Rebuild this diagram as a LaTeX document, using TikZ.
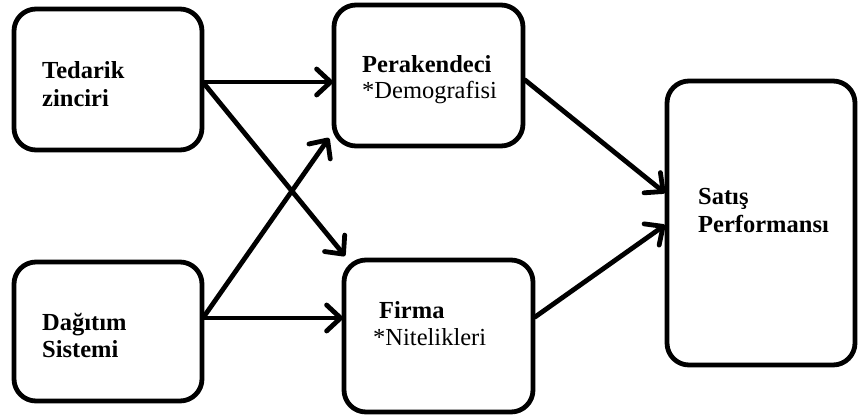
\documentclass[tikz,border=0pt]{standalone}
\usepackage{fontspec}
\setmainfont{Liberation Serif}
\usetikzlibrary{arrows.meta,calc}
\begin{document}
\begin{tikzpicture}[x=1pt,y=-1pt,
  box/.style={draw,line width=4.8pt,rounded corners=22pt,inner sep=0pt,outer sep=0pt},
  arr/.style={line width=4.8pt,line cap=round,
    -{Straight Barb[round,length=14pt,width=26pt]}},
  lbl/.style={anchor=base west,inner sep=0pt,font=\fontsize{24.5}{28}\selectfont\bfseries},
  sub/.style={anchor=base west,inner sep=0pt,font=\fontsize{24.5}{28}\selectfont}]
  \useasboundingbox (0,0) rectangle (858,416);

  % boxes
  \node[box,minimum width=188pt,minimum height=141pt] (A) at (108,79.5) {};
  \node[box,minimum width=189pt,minimum height=141pt] (B) at (428.5,75.5) {};
  \node[box,minimum width=188pt,minimum height=139pt] (C) at (108,331.5) {};
  \node[box,minimum width=189pt,minimum height=152pt] (D) at (438.5,336) {};
  \node[box,minimum width=188pt,minimum height=284pt] (E) at (761,223) {};

  % labels
  \node[lbl] (a1) at (42,78) {Tedarik};
  \node[lbl] (a2) at (42,106) {zinciri};
  \node[lbl] (b1) at (362,72) {Perakendeci};
  \node[sub] (b2) at (362,98) {*Demografisi};
  \node[lbl] (c1) at (42,330) {Dağıtım};
  \node[lbl] (c2) at (42,357) {Sistemi};
  \node[lbl] (d1) at (379,318) {Firma};
  \node[sub] (d2) at (373,345) {*Nitelikleri};
  \node[lbl] (e1) at (698,204) {Satış};
  \node[lbl] (e2) at (698,232) {Performansı};

  % connectors
  \draw[arr] ($(A.east)+(1,2.5)$) -- ($(B.west)+(-1,6.5)$);
  \draw[arr] ($(A.east)+(2,4)$) -- ($(D.north west)+(1,-4)$);
  \draw[arr] ($(C.east)+(2,-15)$) -- ($(B.south west)+(-5,-8)$);
  \draw[arr] ($(C.east)+(1,-13.5)$) -- ($(D.west)+(-1,-18)$);
  \draw[arr] ($(B.east)+(2,4.5)$) -- ($(E.west)+(-2,-30)$);
  \draw[arr] ($(D.east)+(2,-19)$) -- ($(E.west)+(-2,2)$);
\end{tikzpicture}
\end{document}
